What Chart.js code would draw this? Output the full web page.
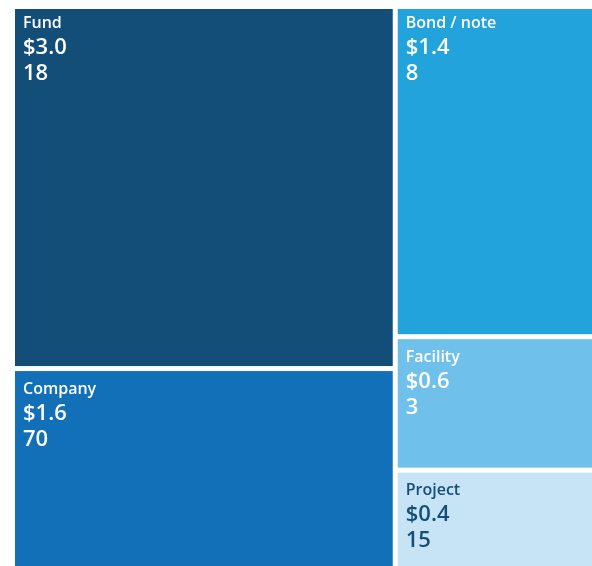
<!DOCTYPE html>
<html>
<head>
<meta charset="utf-8">
<script src="https://cdn.jsdelivr.net/npm/chart.js@4"></script>
<style>
  html, body { margin: 0; padding: 0; background: #ffffff; }
  #wrap { width: 592px; height: 566px; position: relative; }
</style>
</head>
<body>
<div id="wrap"><canvas id="grafico"></canvas></div>
<script>
// Dados (valor em $ e número de operações)
const categorias = ['Fund', 'Company', 'Bond / note', 'Facility', 'Project'];
const valores = [2.97, 1.64, 1.41, 0.57, 0.42];
const contagens = [18, 70, 8, 3, 15];

const cores = ['#124e78', '#1170b8', '#22a3dc', '#6fc0ea', '#c6e4f5'];
const coresTexto = ['#ffffff', '#ffffff', '#ffffff', '#ffffff', '#154e78'];

// Área do treemap em unidades das escalas
const LARGURA = 582;
const ALTURA = 562;
const ESPACO = 5;

// Layout "squarified" simples
function pior(linha, lado) {
  const s = linha.reduce((a, b) => a + b.area, 0);
  const max = Math.max(...linha.map(i => i.area));
  const min = Math.min(...linha.map(i => i.area));
  return Math.max(lado * lado * max / (s * s), (s * s) / (lado * lado * min));
}

function posicionarLinha(linha, ret, saida) {
  const s = linha.reduce((a, b) => a + b.area, 0);
  if (ret.w >= ret.h) {
    const w = s / ret.h;
    let y = ret.y;
    linha.forEach(i => {
      const h = i.area / w;
      saida[i.indice] = { x: ret.x, y: y, w: w, h: h };
      y += h;
    });
    return { x: ret.x + w, y: ret.y, w: ret.w - w, h: ret.h };
  } else {
    const h = s / ret.w;
    let x = ret.x;
    linha.forEach(i => {
      const w = i.area / h;
      saida[i.indice] = { x: x, y: ret.y, w: w, h: h };
      x += w;
    });
    return { x: ret.x, y: ret.y + h, w: ret.w, h: ret.h - h };
  }
}

function squarify(vals, ret) {
  const total = vals.reduce((a, b) => a + b, 0);
  const escala = ret.w * ret.h / total;
  const itens = vals.map((v, i) => ({ indice: i, area: v * escala }))
    .sort((a, b) => b.area - a.area);
  const saida = [];
  let linha = [];
  while (itens.length) {
    const lado = Math.min(ret.w, ret.h);
    const item = itens[0];
    if (linha.length === 0 || pior(linha.concat([item]), lado) <= pior(linha, lado)) {
      linha.push(item);
      itens.shift();
    } else {
      ret = posicionarLinha(linha, ret, saida);
      linha = [];
    }
  }
  if (linha.length) posicionarLinha(linha, ret, saida);
  return saida;
}

const pluginTreemap = {
  id: 'treemap',
  afterDatasetsDraw(chart) {
    const ctx = chart.ctx;
    const sx = chart.scales.x;
    const sy = chart.scales.y;
    const rets = squarify(valores, { x: 0, y: 0, w: LARGURA, h: ALTURA });
    ctx.save();
    rets.forEach((r, i) => {
      const x0 = sx.getPixelForValue(r.x) + ESPACO / 2;
      const x1 = sx.getPixelForValue(r.x + r.w) - ESPACO / 2;
      const y0 = sy.getPixelForValue(r.y) + ESPACO / 2;
      const y1 = sy.getPixelForValue(r.y + r.h) - ESPACO / 2;
      ctx.fillStyle = cores[i];
      ctx.fillRect(x0, y0, x1 - x0, y1 - y0);

      // células da primeira linha têm o texto um pouco mais acima
      const dy = r.y === 0 ? 0 : 3.5;
      ctx.fillStyle = coresTexto[i];
      ctx.textAlign = 'left';
      ctx.textBaseline = 'alphabetic';
      ctx.font = '600 16px "Open Sans"';
      ctx.fillText(categorias[i], x0 + 8, y0 + 19 + dy);
      ctx.font = '600 22px "Open Sans"';
      ctx.fillText('$' + valores[i].toFixed(1), x0 + 8, y0 + 45 + dy);
      ctx.fillText(String(contagens[i]), x0 + 8, y0 + 71 + dy);
    });
    ctx.restore();
  }
};

const config = {
  type: 'scatter',
  data: { datasets: [{ data: [] }] },
  options: {
    responsive: true,
    maintainAspectRatio: false,
    animation: false,
    layout: { padding: 0 },
    plugins: {
      legend: { display: false },
      tooltip: { enabled: false }
    },
    scales: {
      x: { display: false, min: -12.5, max: 579.5 },
      y: { display: false, min: -6.5, max: 559.5, reverse: true }
    }
  },
  plugins: [pluginTreemap]
};

const grafico = new Chart(document.getElementById('grafico'), config);
</script>
</body>
</html>
